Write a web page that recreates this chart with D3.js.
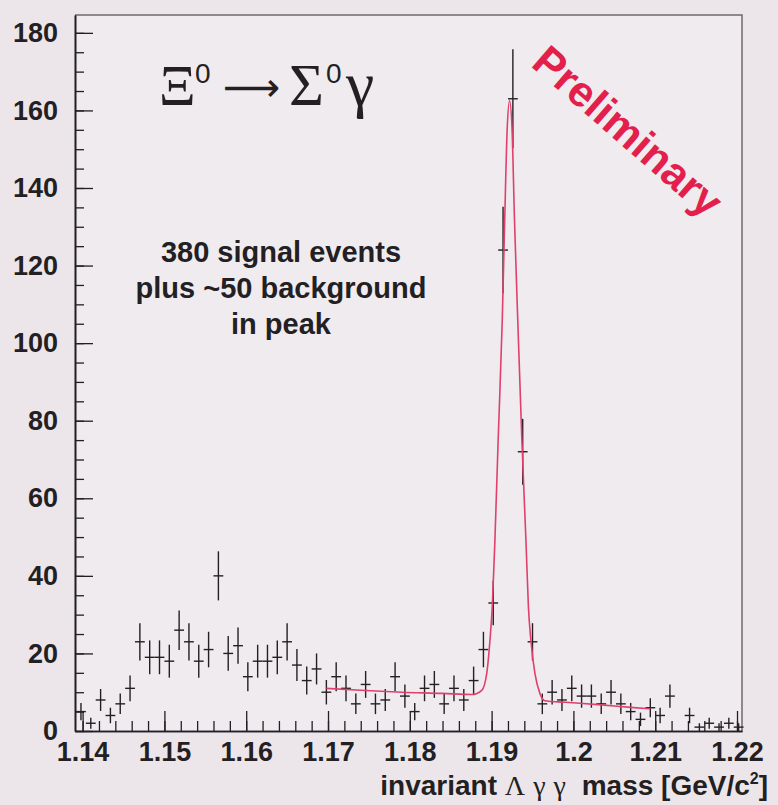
<!DOCTYPE html>
<html>
<head>
<meta charset="utf-8">
<script src="https://cdn.jsdelivr.net/npm/d3@7"></script>
<style>
  html, body { margin: 0; padding: 0; background: #ece6eb; }
  svg { display: block; }
  .tick text { font-family: "Liberation Sans", Arial, sans-serif; font-weight: bold; }
</style>
</head>
<body>
<script>
/**
 * DATA
 */
// histogram: 68 bins of 1.2 MeV starting at histLow
const histLow = 1.1392;
const histBinWidth = 0.0012;
const counts = [
  5, 2, 8, 4, 7, 11, 23, 19, 19, 18,
  26, 23, 18, 21, 40, 20, 22, 14, 18, 18,
  19, 23, 17, 13, 16, 10, 14, 11, 7, 12,
  7, 8, 14, 9, 5, 11, 12, 7, 11, 8,
  13, 21, 33, 124, 163, 72, 23, 7, 10, 8,
  11, 9, 9, 7, 10, 7, 5, 3, 6, 4,
  9, 0, 4, 1, 2, 1, 2, 1
];

// fit curve (gaussian + background)
const fitMass = [
  1.1698, 1.1740, 1.1790, 1.1840, 1.1876, 1.1888, 1.1894, 1.1898, 1.1901, 1.1904,
  1.1908, 1.1913, 1.1916, 1.1919, 1.1922, 1.1925, 1.1928, 1.1932, 1.1937, 1.1942,
  1.1945, 1.1948, 1.1953, 1.1959, 1.1965, 1.1990, 1.2030, 1.2070, 1.2094
];
const fitValue = [
  11.0, 10.5, 10.0, 9.7, 9.4, 10.5, 14.8, 23.4, 32.9, 49,
  75, 105.8, 131.6, 155, 162.5, 155, 131.6, 105.8, 75, 49,
  32, 23.4, 14.8, 9.7, 7.8, 7.4, 6.8, 6.1, 5.7
];

const xTicks = [1.14, 1.15, 1.16, 1.17, 1.18, 1.19, 1.2, 1.21, 1.22];
const xTickLabels = ["1.14", "1.15", "1.16", "1.17", "1.18", "1.19", "1.2", "1.21", "1.22"];
const xMinorTicks = d3.range(1.14, 1.2201, 0.002);
const yTicks = [0, 20, 40, 60, 80, 100, 120, 140, 160, 180];
const yMinorTicks = d3.range(0, 184, 5);

/**
 * SETUP
 */
const WIDTH = 778, HEIGHT = 805;
const PLOT = { left: 75, right: 742, top: 15, bottom: 731 };
const SANS = '"Liberation Sans", Arial, Helvetica, sans-serif';
const SERIF = '"Liberation Serif", "Times New Roman", serif';
const INK = "#231f22";
const FIT_COLOR = "#e0406c";

const svg = d3.select("body").append("svg")
  .attr("width", WIDTH)
  .attr("height", HEIGHT);

svg.append("rect")
  .attr("width", WIDTH).attr("height", HEIGHT)
  .attr("fill", "#ece6eb");
svg.append("rect")
  .attr("x", PLOT.left).attr("y", PLOT.top)
  .attr("width", PLOT.right - PLOT.left).attr("height", PLOT.bottom - PLOT.top)
  .attr("fill", "#efebef");

const x = d3.scaleLinear().domain([1.13907, 1.22061]).range([PLOT.left, PLOT.right]);
const y = d3.scaleLinear().domain([0, 184.6]).range([PLOT.bottom, PLOT.top]);

/**
 * AXES
 */
// frame top + right
svg.append("path")
  .attr("d", `M${PLOT.left},${PLOT.top}H${PLOT.right}V${PLOT.bottom}`)
  .attr("fill", "none").attr("stroke", "#6f6a6e").attr("stroke-width", 1.5);

const xMinor = svg.append("g")
  .attr("transform", `translate(0,${PLOT.bottom})`)
  .call(d3.axisBottom(x).tickValues(xMinorTicks).tickSizeInner(-10).tickSizeOuter(0).tickFormat(""));
const xMajor = svg.append("g")
  .attr("transform", `translate(0,${PLOT.bottom})`)
  .call(d3.axisBottom(x).tickValues(xTicks).tickSizeInner(-20).tickSizeOuter(0).tickPadding(11)
    .tickFormat((d, i) => xTickLabels[i]));

const yMinor = svg.append("g")
  .attr("transform", `translate(${PLOT.left},0)`)
  .call(d3.axisLeft(y).tickValues(yMinorTicks).tickSizeInner(-9).tickSizeOuter(0).tickFormat(""));
const yMajor = svg.append("g")
  .attr("transform", `translate(${PLOT.left},0)`)
  .call(d3.axisLeft(y).tickValues(yTicks).tickSizeInner(-18).tickSizeOuter(0).tickPadding(17));

[xMinor, xMajor, yMinor, yMajor].forEach((g) => {
  g.select(".domain").attr("stroke", INK).attr("stroke-width", 1.6);
  g.selectAll(".tick line").attr("stroke", INK).attr("stroke-width", 1.3);
  g.selectAll(".tick text").attr("fill", INK).attr("font-size", 27);
});

/**
 * DATA POINTS (error bars)
 */
const bins = counts.map((c, i) => ({
  center: histLow + histBinWidth * (i + 0.5),
  count: c,
  err: Math.sqrt(c),
})).filter((d) => d.count > 0);

const pts = svg.append("g").attr("stroke", INK).attr("stroke-width", 1.4);
pts.selectAll("line.v").data(bins).join("line")
  .attr("class", "v")
  .attr("x1", (d) => x(d.center)).attr("x2", (d) => x(d.center))
  .attr("y1", (d) => y(d.count - d.err)).attr("y2", (d) => y(d.count + d.err));
pts.selectAll("line.h").data(bins).join("line")
  .attr("class", "h")
  .attr("x1", (d) => x(d.center - histBinWidth / 2)).attr("x2", (d) => x(d.center + histBinWidth / 2))
  .attr("y1", (d) => y(d.count)).attr("y2", (d) => y(d.count));

/**
 * FIT CURVE
 */
const fit = fitMass.map((m, i) => [m, fitValue[i]]);
svg.append("path")
  .datum(fit)
  .attr("fill", "none")
  .attr("stroke", FIT_COLOR)
  .attr("stroke-width", 1.6)
  .attr("d", d3.line().x((d) => x(d[0])).y((d) => y(d[1])).curve(d3.curveMonotoneX));

/**
 * TEXT
 */
// each piece of the decay formula is placed by hand, like TLatex does
const title = svg.append("text")
  .attr("y", 105)
  .attr("font-family", SERIF).attr("font-size", 57).attr("fill", INK);
title.append("tspan").attr("x", 159).text("Ξ");
title.append("tspan").attr("x", 195).attr("y", 83).attr("font-family", SANS).attr("font-size", 28).text("0");
title.append("tspan").attr("x", 223).attr("y", 101).attr("font-family", "DejaVu Sans").attr("font-size", 40).text("⟶");
title.append("tspan").attr("x", 289).attr("y", 105).attr("font-size", 60).text("Σ");
title.append("tspan").attr("x", 326).attr("y", 83).attr("font-family", SANS).attr("font-size", 28).text("0");
title.append("tspan").attr("x", 346).attr("y", 105).attr("font-size", 64).text("γ");

const info = ["380 signal events", "plus ~50 background", "in peak"];
svg.append("g")
  .selectAll("text").data(info).join("text")
  .attr("x", 281).attr("y", (d, i) => 262 + i * 36)
  .attr("text-anchor", "middle")
  .attr("font-family", SANS).attr("font-weight", "bold").attr("font-size", 29)
  .attr("fill", INK)
  .text((d) => d);

svg.append("text")
  .attr("transform", "translate(628,131) rotate(41)")
  .attr("text-anchor", "middle").attr("dy", "0.35em")
  .attr("font-family", SANS).attr("font-weight", "bold").attr("font-size", 43)
  .attr("fill", "#e3204c")
  .text("Preliminary");

const xTitle = svg.append("text")
  .attr("x", 768).attr("y", 795)
  .attr("text-anchor", "end")
  .attr("font-family", SANS).attr("font-weight", "bold").attr("font-size", 28)
  .attr("fill", INK);
xTitle.append("tspan").text("invariant  ");
xTitle.append("tspan").attr("font-family", SERIF).attr("font-weight", "normal")
  .attr("font-size", 28).attr("letter-spacing", 8).text("Λγγ");
xTitle.append("tspan").text(" mass [GeV/c");
xTitle.append("tspan").attr("font-size", 16).attr("dy", -11).text("2");
xTitle.append("tspan").attr("dy", 11).text("]");
</script>
</body>
</html>
